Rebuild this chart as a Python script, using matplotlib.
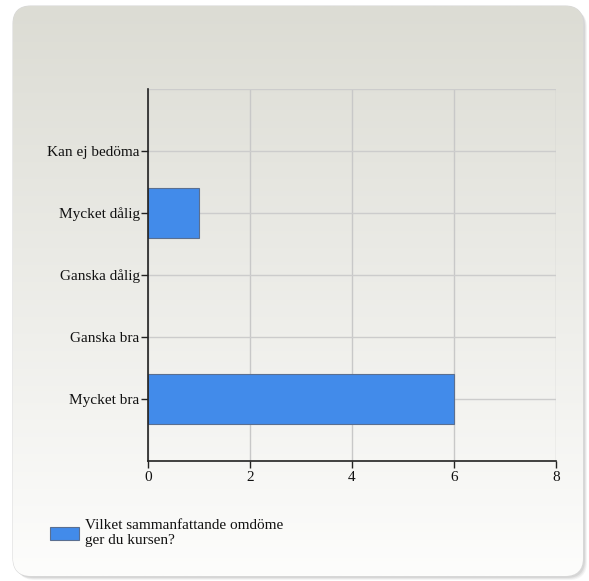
import numpy as np
import matplotlib.pyplot as plt
from matplotlib.patches import FancyBboxPatch, Rectangle

categories = ["Mycket bra", "Ganska bra", "Ganska dålig", "Mycket dålig", "Kan ej bedöma"]
counts = [6, 0, 0, 1, 0]
xticks = [0, 2, 4, 6, 8]
legend_label = "Vilket sammanfattande omdöme\nger du kursen?"

W, H = 589, 581
fig = plt.figure(figsize=(W / 100, H / 100), dpi=100)
fig.patch.set_facecolor("white")

# panel with shadow and vertical gradient
bg = fig.add_axes([0, 0, 1, 1])
bg.set_xlim(0, W)
bg.set_ylim(H, 0)
bg.axis("off")
for off, a in [(4, 0.10), (3, 0.15), (2, 0.2)]:
    sh = FancyBboxPatch((13 + off, 6 + off), 570, 570, boxstyle="round,pad=0,rounding_size=18",
                        facecolor="#9a9a9a", edgecolor="none", alpha=a, zorder=0)
    bg.add_patch(sh)
panel = FancyBboxPatch((13, 6), 570, 570, boxstyle="round,pad=0,rounding_size=18",
                       facecolor="white", edgecolor="#d8d8d8", lw=0.8, zorder=1)
bg.add_patch(panel)
top = np.array([220, 220, 212]) / 255
bot = np.array([253, 253, 252]) / 255
t = np.linspace(0, 1, 256)[:, None]
grad = (top[None, :] * (1 - t) + bot[None, :] * t)[:, None, :]
im = bg.imshow(grad, extent=[13, 583, 576, 6], aspect="auto", zorder=2)
im.set_clip_path(panel)

# chart
ax = fig.add_axes([148 / W, (H - 461) / H, (556 - 148) / W, (461 - 89) / H])
ax.patch.set_alpha(0)
y = np.arange(len(categories))
edges = ["#5a6f90" if c > 0 else "none" for c in counts]
ax.barh(y, counts, height=0.8, color="#428bea", edgecolor=edges, lw=0.8, zorder=3)
ax.set_xlim(0, 8)
ax.set_ylim(-1, 5)
ax.set_yticks(y)
ax.set_yticklabels(categories)
ax.set_xticks(xticks)
ax.set_xticklabels([str(v) for v in xticks])
for v in xticks:
    ax.axvline(v, color="#c8c8c8", lw=1, zorder=1)
for v in list(y) + [5]:
    ax.axhline(v, color="#cccccc", lw=1, zorder=1)
for s in ["top", "right"]:
    ax.spines[s].set_visible(False)
for s in ["left", "bottom"]:
    ax.spines[s].set_color("#222222")
    ax.spines[s].set_linewidth(1.2)
    ax.spines[s].set_zorder(4)
ax.tick_params(axis="y", length=5, width=1, color="#222222", pad=1)
ax.tick_params(axis="x", length=5, width=1, color="#222222", pad=2)
for lab in ax.get_yticklabels() + ax.get_xticklabels():
    lab.set_fontfamily("Liberation Serif")
    lab.set_fontsize(11)
    lab.set_color("#111111")

# legend
bg.add_patch(Rectangle((50, 527), 29, 13, facecolor="#428bea", edgecolor="#5a6f90", lw=0.8, zorder=3))
bg.text(85, 533, legend_label, fontfamily="Liberation Serif", fontsize=11,
        va="center", ha="left", color="#111111", linespacing=1.2, zorder=3)

fig.savefig("out.png", dpi=100)
